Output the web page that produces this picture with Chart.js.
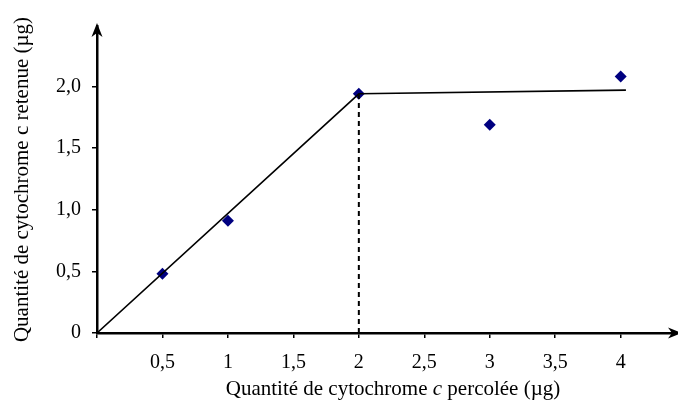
<!DOCTYPE html>
<html lang="fr">
<head>
<meta charset="UTF-8">
<script src="https://cdn.jsdelivr.net/npm/chart.js"></script>
<title>Cytochrome c</title>
<style>body{margin:0;background:#fff}</style>
</head>
<body>
<canvas id="chart" width="678" height="403"></canvas>
<script>
const pointsX = [0.5, 1, 2, 3, 4];
const pointsY = [0.48, 0.91, 1.94, 1.69, 2.08];
// droite tracée à la main (deux segments)
const lineX = [0, 2, 4.04];
const lineY = [0, 1.94, 1.97];
// pointillé vertical à x = 2
const dashX = [2, 2];
const dashY = [0, 1.94];
const xTicks = [0, 0.5, 1, 1.5, 2, 2.5, 3, 3.5, 4];
const yTicks = [0, 0.5, 1, 1.5, 2];
const xTitleParts = [['Quantité de cytochrome ', false], ['c', true], [' percolée (µg)', false]];
const yTitle = 'Quantité de cytochrome c retenue (µg)';

const FONT = "'Liberation Serif', 'Times New Roman', serif";
const zip = (xs, ys) => xs.map((x, i) => ({x: x, y: ys[i]}));
const comma = v => String(v).replace('.', ',');

const arrows = {
    id: 'arrows',
    afterDraw(chart) {
        const ctx = chart.ctx;
        const x0 = chart.scales.x.getPixelForValue(0);
        const y0 = chart.scales.y.getPixelForValue(0);
        ctx.save();
        ctx.fillStyle = '#000';
        ctx.strokeStyle = '#000';
        // prolongement de l'axe x jusqu'au bord
        ctx.lineWidth = 2.5;
        ctx.beginPath();
        ctx.moveTo(chart.chartArea.right - 1, y0);
        ctx.lineTo(672, y0);
        ctx.stroke();
        // flèche verticale
        ctx.beginPath();
        ctx.moveTo(x0, 23);
        ctx.lineTo(x0 - 5.5, 37);
        ctx.lineTo(x0, 33);
        ctx.lineTo(x0 + 5.5, 37);
        ctx.closePath();
        ctx.fill();
        // flèche horizontale
        ctx.beginPath();
        ctx.moveTo(682, y0);
        ctx.lineTo(668, y0 - 5.5);
        ctx.lineTo(672, y0);
        ctx.lineTo(668, y0 + 5.5);
        ctx.closePath();
        ctx.fill();
        // titre de l'axe x avec le c en italique
        const size = 21;
        let total = 0;
        xTitleParts.forEach(p => {
            ctx.font = (p[1] ? 'italic ' : '') + size + 'px ' + FONT;
            total += ctx.measureText(p[0]).width;
        });
        let x = 393 - total / 2;
        ctx.textBaseline = 'alphabetic';
        ctx.textAlign = 'left';
        xTitleParts.forEach(p => {
            ctx.font = (p[1] ? 'italic ' : '') + size + 'px ' + FONT;
            ctx.fillText(p[0], x, 395);
            x += ctx.measureText(p[0]).width;
        });
        ctx.restore();
    }
};

new Chart(document.getElementById('chart'), {
    type: 'scatter',
    data: {
        datasets: [{
            data: zip(dashX, dashY),
            showLine: true,
            borderColor: '#000',
            borderWidth: 2,
            borderDash: [5, 4],
            pointRadius: 0
        }, {
            data: zip(lineX, lineY),
            showLine: true,
            borderColor: '#000',
            borderWidth: 1.6,
            pointRadius: 0
        }, {
            data: zip(pointsX, pointsY),
            pointStyle: 'rectRot',
            pointRadius: 6,
            backgroundColor: '#000080',
            borderColor: '#000080',
            borderWidth: 0
        }]
    },
    options: {
        responsive: false,
        animation: false,
        layout: {padding: {top: 26, right: 0, bottom: 0, left: 0}},
        plugins: {legend: {display: false}, tooltip: {enabled: false}},
        scales: {
            x: {
                type: 'linear',
                min: 0,
                max: 4.392,
                afterBuildTicks: s => { s.ticks = xTicks.map(v => ({value: v})); },
                afterFit: s => { s.height = 70; },
                border: {display: true, color: '#000', width: 2.5},
                grid: {drawOnChartArea: false, drawTicks: true, tickLength: 5, color: '#000', lineWidth: 1.5},
                ticks: {
                    color: '#000',
                    padding: 13,
                    maxRotation: 0,
                    font: {family: FONT, size: 20},
                    callback: v => v === 0 ? '' : comma(v)
                }
            },
            y: {
                type: 'linear',
                min: 0,
                max: 2.49,
                afterBuildTicks: s => { s.ticks = yTicks.map(v => ({value: v})); },
                afterFit: s => { s.width = 97; },
                border: {display: true, color: '#000', width: 2.5},
                grid: {drawOnChartArea: false, drawTicks: true, tickLength: 5, color: '#000', lineWidth: 1.5},
                title: {
                    display: true,
                    text: yTitle,
                    color: '#000',
                    font: {family: FONT, size: 21},
                    padding: {top: 10, bottom: 0}
                },
                ticks: {
                    color: '#000',
                    padding: 11,
                    font: {family: FONT, size: 20},
                    callback: v => v === 0 ? '0' : v.toFixed(1).replace('.', ',')
                }
            }
        }
    },
    plugins: [arrows]
});
</script>
</body>
</html>
